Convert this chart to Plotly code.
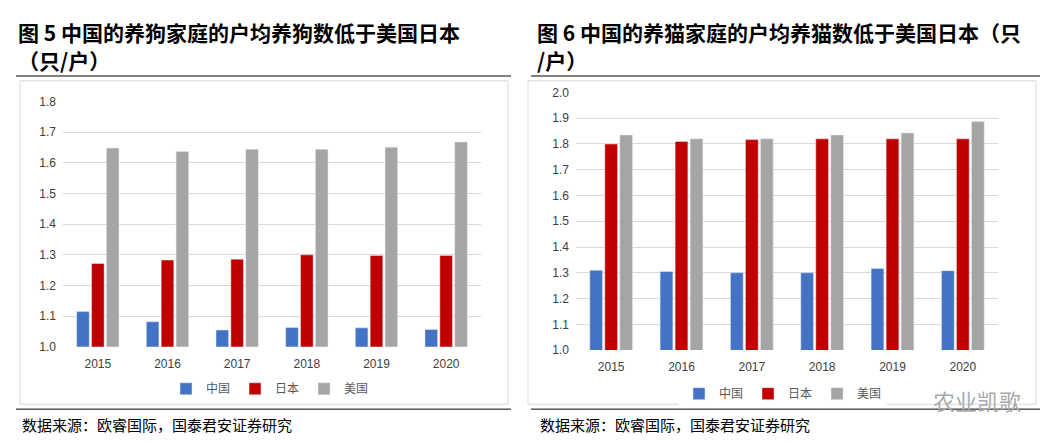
import plotly.graph_objects as go

years = ["2015", "2016", "2017", "2018", "2019", "2020"]
dog_cn = [1.115, 1.082, 1.055, 1.063, 1.062, 1.057]
dog_jp = [1.272, 1.283, 1.286, 1.300, 1.298, 1.298]
dog_us = [1.648, 1.637, 1.644, 1.644, 1.651, 1.668]
cat_cn = [1.310, 1.305, 1.300, 1.300, 1.317, 1.308]
cat_jp = [1.800, 1.810, 1.817, 1.820, 1.820, 1.820]
cat_us = [1.835, 1.820, 1.820, 1.835, 1.843, 1.887]
names = ["中国", "日本", "美国"]
colors = ["#4472C4", "#C00000", "#A5A5A5"]

W, H = 1049, 443
def px(x): return x / W
def py(y): return (H - y) / H

fig = go.Figure()
for vals, n, c in zip([dog_cn, dog_jp, dog_us], names, colors):
    fig.add_trace(go.Bar(x=years, y=vals, name=n, marker_color=c, xaxis="x", yaxis="y", legend="legend"))
for vals, n, c in zip([cat_cn, cat_jp, cat_us], names, colors):
    fig.add_trace(go.Bar(x=years, y=vals, name=n, marker_color=c, xaxis="x2", yaxis="y2", legend="legend2"))

font = "Noto Sans CJK SC"
axcommon = dict(showline=False, ticks="", tickfont=dict(size=12, color="#404040", family="Liberation Sans"))
fig.update_layout(
    width=W, height=H, margin=dict(l=0, r=0, t=0, b=0),
    plot_bgcolor="white", paper_bgcolor="white",
    barmode="group", bargap=0.36, bargroupgap=0.15,
    font=dict(family=font),
    xaxis=dict(domain=[px(55), px(473)], anchor="y", ticklabelstandoff=8, **axcommon),
    yaxis=dict(domain=[py(342.7), py(89.3)], range=[1.0, 1.8], dtick=0.1, tickformat=".1f",
               gridcolor="#D9D9D9", zeroline=False, anchor="x", ticklabelstandoff=6, **axcommon),
    xaxis2=dict(domain=[px(568), px(990)], anchor="y2", ticklabelstandoff=8, **axcommon),
    yaxis2=dict(domain=[py(346), py(80)], range=[1.0, 2.0], dtick=0.1, tickformat=".1f",
                gridcolor="#D9D9D9", zeroline=False, anchor="x2", ticklabelstandoff=6, **axcommon),
    legend=dict(orientation="h", x=px(262), y=py(386), xanchor="center", yanchor="middle",
                font=dict(size=12, color="#595959"), itemwidth=30, tracegroupgap=0),
    legend2=dict(orientation="h", x=px(775), y=py(391), xanchor="center", yanchor="middle",
                 font=dict(size=12, color="#595959"), itemwidth=30, tracegroupgap=0),
)

tfont = dict(family=font, size=21, color="black", weight="bold")
ann = [
    (8, 18, "图 5 中国的养狗家庭的户均养狗数低于美国日本"),
    (8, 46, "（只/户）"),
    (527, 18, "图 6 中国的养猫家庭的户均养猫数低于美国日本（只"),
    (527, 46, "/户）"),
]
for x, y, t in ann:
    fig.add_annotation(x=px(x), y=py(y), xref="paper", yref="paper", text=t, showarrow=False,
                       xanchor="left", yanchor="middle", font=tfont)
for x, t in [(12, "数据来源：欧睿国际，国泰君安证券研究"), (530, "数据来源：欧睿国际，国泰君安证券研究")]:
    fig.add_annotation(x=px(x), y=py(423), xref="paper", yref="paper", text=t, showarrow=False,
                       xanchor="left", yanchor="middle", font=dict(family=font, size=15, color="black"))
fig.add_annotation(x=px(1015), y=py(398), xref="paper", yref="paper", text="农业凯歌", showarrow=False,
                   xanchor="right", yanchor="middle", font=dict(family=font, size=22, color="#AAAAAA"))

for x0, x1 in [(8, 503), (523, 1032)]:
    fig.add_shape(type="line", xref="paper", yref="paper", x0=px(x0), x1=px(x1), y0=py(63), y1=py(63),
                  line=dict(color="black", width=1.2))
    fig.add_shape(type="line", xref="paper", yref="paper", x0=px(x0), x1=px(x1), y0=py(407), y1=py(407),
                  line=dict(color="black", width=1))
for x0, x1 in [(12, 500), (520, 1028)]:
    fig.add_shape(type="rect", xref="paper", yref="paper", x0=px(x0), x1=px(x1), y0=py(402), y1=py(68),
                  line=dict(color="#D9D9D9", width=1))

fig.write_html("out.html")
